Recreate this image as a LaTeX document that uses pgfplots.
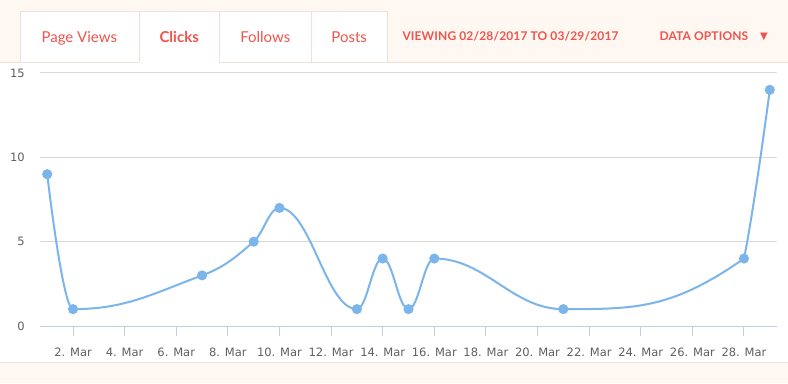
\documentclass[border=0pt]{standalone}
\usepackage{fontspec}
\usepackage{pgfplots}
\pgfplotsset{compat=1.18}
\setmainfont{Lato}
\newfontfamily\capsfont[LetterSpace=1.2]{Lato}
\newfontfamily\tickfont{DejaVu Sans}
\newfontfamily\symfont{DejaVu Sans}
\definecolor{peach}{HTML}{FFF7F1}
\definecolor{coral}{HTML}{F0544C}
\definecolor{tabborder}{HTML}{EAE2DB}
\definecolor{series}{HTML}{7CB5EC}
\definecolor{axisline}{HTML}{C0D0E0}
\definecolor{gridc}{HTML}{D8D8D8}
\definecolor{ticktext}{HTML}{606060}

\makeatletter
\newdimen\hc@ax \newdimen\hc@ay \newdimen\hc@arx \newdimen\hc@ary
\newdimen\hc@bx \newdimen\hc@by \newdimen\hc@nx \newdimen\hc@ny
\newdimen\hc@lx \newdimen\hc@ly \newdimen\hc@rx \newdimen\hc@ry
\newdimen\hc@tmp
\def\pgfplothandlerhcspline{%
  \def\pgf@plotstreamstart{%
    \global\let\pgf@plotstreampoint=\hc@pointA
    \global\let\pgf@plotstreamspecial=\@gobble
    \global\let\pgf@plotstreamend=\relax
  }%
}
\def\hc@pointA#1{%
  \pgf@process{#1}%
  \global\hc@ax=\pgf@x \global\hc@ay=\pgf@y
  \global\hc@arx=\pgf@x \global\hc@ary=\pgf@y
  \pgf@plot@first@action{\pgfqpoint{\hc@ax}{\hc@ay}}%
  \global\let\pgf@plotstreampoint=\hc@pointB
}
\def\hc@pointB#1{%
  \pgf@process{#1}%
  \global\hc@bx=\pgf@x \global\hc@by=\pgf@y
  \global\let\pgf@plotstreampoint=\hc@pointN
  \global\let\pgf@plotstreamend=\hc@finish
}
\def\hc@clampleft{%
  \ifdim\hc@ly>\hc@ay\relax
    \ifdim\hc@ly>\hc@by\relax
      \ifdim\hc@ay>\hc@by\relax \hc@ly=\hc@ay\relax \else \hc@ly=\hc@by\relax \fi
      \hc@ry=2\hc@by\relax \advance\hc@ry by -\hc@ly\relax
    \fi
  \else
    \ifdim\hc@ly<\hc@ay\relax
      \ifdim\hc@ly<\hc@by\relax
        \ifdim\hc@ay<\hc@by\relax \hc@ly=\hc@ay\relax \else \hc@ly=\hc@by\relax \fi
        \hc@ry=2\hc@by\relax \advance\hc@ry by -\hc@ly\relax
      \fi
    \fi
  \fi}
\def\hc@clampright{%
  \ifdim\hc@ry>\hc@ny\relax
    \ifdim\hc@ry>\hc@by\relax
      \ifdim\hc@ny>\hc@by\relax \hc@ry=\hc@ny\relax \else \hc@ry=\hc@by\relax \fi
      \hc@ly=2\hc@by\relax \advance\hc@ly by -\hc@ry\relax
    \fi
  \else
    \ifdim\hc@ry<\hc@ny\relax
      \ifdim\hc@ry<\hc@by\relax
        \ifdim\hc@ny<\hc@by\relax \hc@ry=\hc@ny\relax \else \hc@ry=\hc@by\relax \fi
        \hc@ly=2\hc@by\relax \advance\hc@ly by -\hc@ry\relax
      \fi
    \fi
  \fi}
\def\hc@pointN#1{%
  \pgf@process{#1}%
  \global\hc@nx=\pgf@x \global\hc@ny=\pgf@y
  \pgfmathsetlength\hc@lx{(1.5*\hc@bx+\hc@ax)/2.5}%
  \pgfmathsetlength\hc@ly{(1.5*\hc@by+\hc@ay)/2.5}%
  \pgfmathsetlength\hc@rx{(1.5*\hc@bx+\hc@nx)/2.5}%
  \pgfmathsetlength\hc@ry{(1.5*\hc@by+\hc@ny)/2.5}%
  \pgfmathsetlength\hc@tmp{(\hc@ry-\hc@ly)/(\hc@rx-\hc@lx)*(\hc@rx-\hc@bx)+\hc@by-\hc@ry}%
  \advance\hc@ly by\hc@tmp
  \advance\hc@ry by\hc@tmp
  \hc@clampleft
  \hc@clampright
  \pgfpathcurveto{\pgfqpoint{\hc@arx}{\hc@ary}}{\pgfqpoint{\hc@lx}{\hc@ly}}{\pgfqpoint{\hc@bx}{\hc@by}}%
  \global\hc@ax=\hc@bx \global\hc@ay=\hc@by
  \global\hc@arx=\hc@rx \global\hc@ary=\hc@ry
  \global\hc@bx=\hc@nx \global\hc@by=\hc@ny
}
\def\hc@finish{%
  \pgfpathcurveto{\pgfqpoint{\hc@arx}{\hc@ary}}{\pgfqpoint{\hc@bx}{\hc@by}}{\pgfqpoint{\hc@bx}{\hc@by}}%
}
\tikzset{hc spline/.code={\let\tikz@plot@handler=\pgfplothandlerhcspline}}
\makeatother

\begin{document}
\begin{tikzpicture}[x=1bp,y=1bp]
% backgrounds
\fill[peach] (0,0) rectangle (788,383);
\fill[white] (0,20.3) rectangle (788,321);
\draw[tabborder, line width=1bp] (0,20.3) -- (788,20.3);
% tabs
\fill[white] (20,321) rectangle (387.3,371.3);
\draw[tabborder, line width=1bp] (0,321) -- (139.3,321);
\draw[tabborder, line width=1bp] (219.3,321) -- (788,321);
\draw[tabborder, line width=1bp] (20,321) -- (20,371.3) -- (387.3,371.3) -- (387.3,321);
\draw[tabborder, line width=1bp] (139.3,321) -- (139.3,371.3);
\draw[tabborder, line width=1bp] (219.3,321) -- (219.3,371.3);
\draw[tabborder, line width=1bp] (311.3,321) -- (311.3,371.3);
\node[anchor=base, inner sep=0pt, text=coral, font=\fontsize{15bp}{18bp}\selectfont] at (79.3,340.8) {Page Views};
\node[anchor=base, inner sep=0pt, text=coral, font=\fontsize{15bp}{18bp}\selectfont\bfseries] at (179.2,340.8) {Clicks};
\node[anchor=base, inner sep=0pt, text=coral, font=\fontsize{15bp}{18bp}\selectfont] at (265.3,340.8) {Follows};
\node[anchor=base, inner sep=0pt, text=coral, font=\fontsize{15bp}{18bp}\selectfont] at (349.2,340.8) {Posts};
\node[anchor=base west, inner sep=0pt, text=coral, font=\capsfont\fontsize{12bp}{14bp}\selectfont\bfseries] at (402.3,342.3) {VIEWING 02/28/2017 TO 03/29/2017};
\node[anchor=base west, inner sep=0pt, text=coral, font=\capsfont\fontsize{12bp}{14bp}\selectfont\bfseries] at (659.3,342.3) {DATA OPTIONS};
\node[anchor=center, inner sep=0pt, text=coral, font=\symfont\fontsize{10bp}{12bp}\selectfont] at (764,346.5) {▼};
\begin{axis}[
  at={(40bp,57bp)}, anchor=south west,
  scale only axis, width=737bp, height=253bp,
  xmin=0.72, xmax=29.28, ymin=0, ymax=15,
  axis x line*=bottom, axis y line*=left,
  x axis line style={draw=axisline, line width=1bp},
  y axis line style={draw=none},
  xtick={2,4,6,8,10,12,14,16,18,20,22,24,26,28},
  xticklabels={2. Mar,4. Mar,6. Mar,8. Mar,10. Mar,12. Mar,14. Mar,16. Mar,18. Mar,20. Mar,22. Mar,24. Mar,26. Mar,28. Mar},
  ytick={0,5,10,15},
  ymajorgrids, grid style={draw=gridc, line width=1bp},
  xtick align=outside, ytick align=inside,
  major tick length=10bp,
  xtick style={draw=axisline, line width=1bp},
  ytick style={draw=none},
  ticklabel style={font=\tickfont\fontsize{11.5bp}{13bp}\selectfont, text=ticktext, inner sep=0pt},
  xticklabel style={anchor=base, yshift=-20bp},
  yticklabel style={anchor=east, xshift=-15bp},
  /pgf/number format/assume math mode=true,
  clip=false,
]
\addplot[hc spline, draw=series, line width=2bp, mark=*, mark size=4bp, mark options={draw=none, fill=series}] coordinates {
  (1,9) (2,1) (7,3) (9,5) (10,7) (13,1) (14,4) (15,1) (16,4) (21,1) (28,4) (29,14)
};
\end{axis}
\pgfresetboundingbox
\path[use as bounding box] (0,0) rectangle (788,383);
\end{tikzpicture}
\end{document}
